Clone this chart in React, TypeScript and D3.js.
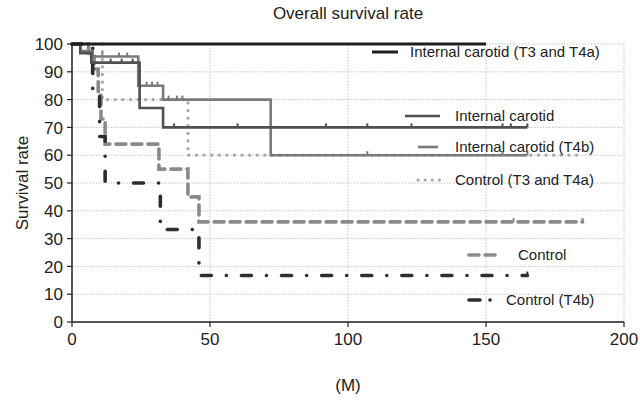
import React from "react";
import * as d3 from "d3";

const xTicks = [0, 50, 100, 150, 200];
const yTicks = [0, 10, 20, 30, 40, 50, 60, 70, 80, 90, 100];

const icT3T4aTimes = [0, 150];
const icT3T4aValues = [100, 100];
const icAllTimes = [0, 3, 7, 24.5, 33, 165];
const icAllValues = [100, 96.7, 93.3, 77, 70, 70];
const icT4bTimes = [0, 3, 7.5, 24, 33, 72, 165];
const icT4bValues = [100, 97.5, 95.5, 85, 80, 60, 60];
const ctrlT3T4aTimes = [0, 11, 42, 185];
const ctrlT3T4aValues = [100, 80, 60, 60];
const ctrlAllTimes = [0, 6, 8, 9.5, 10.5, 12, 31.5, 42, 46, 185];
const ctrlAllValues = [100, 95.5, 91, 82, 73, 64, 55, 45, 36, 36];
const ctrlT4bTimes = [0, 7.5, 10, 12, 32, 46, 165];
const ctrlT4bValues = [100, 83.3, 66.7, 50, 33.3, 16.7, 16.7];

const icAllCensor = [14, 18, 22, 37, 60, 92, 107, 123, 156, 159, 165];
const icT4bCensor = [11, 17, 20, 27, 29, 31, 35, 38, 40, 107, 156, 165];
const ctrlAllCensor = [160, 185];
const ctrlT4bCensor = [165];

const legendLabels = [
  "Internal carotid (T3 and T4a)",
  "Internal carotid",
  "Internal carotid (T4b)",
  "Control (T3 and T4a)",
  "Control",
  "Control (T4b)",
];

const FONT = "'Liberation Sans', Arial, sans-serif";

const x = d3.scaleLinear().domain([0, 200]).range([72, 624]);
const y = d3.scaleLinear().domain([0, 100]).range([322, 44]);

const stepLine = d3
  .line<[number, number]>()
  .x((d) => x(d[0]))
  .y((d) => y(d[1]))
  .curve(d3.curveStepAfter);

function valueAt(times: number[], values: number[], t: number) {
  let v = values[0];
  for (let i = 0; i < times.length; i++) if (times[i] <= t) v = values[i];
  return v;
}

type Style = {
  stroke: string;
  width: number;
  dash?: string;
  cap?: "round" | "butt" | "square";
};

const styles: Style[] = [
  { stroke: "#1e1e1e", width: 3 },
  { stroke: "#505050", width: 2.6 },
  { stroke: "#7a7a7a", width: 2.6 },
  { stroke: "#a8a8a8", width: 3.2, dash: "0.1 7.5", cap: "round" },
  { stroke: "#8a8a8a", width: 3.6, dash: "10 6", cap: "round" },
  { stroke: "#2e2e2e", width: 3.6, dash: "10 15 0.1 15", cap: "round" },
];

const series = [
  { times: icT3T4aTimes, values: icT3T4aValues, censor: [] as number[] },
  { times: icAllTimes, values: icAllValues, censor: icAllCensor },
  { times: icT4bTimes, values: icT4bValues, censor: icT4bCensor },
  { times: ctrlT3T4aTimes, values: ctrlT3T4aValues, censor: [] as number[] },
  { times: ctrlAllTimes, values: ctrlAllValues, censor: ctrlAllCensor },
  { times: ctrlT4bTimes, values: ctrlT4bValues, censor: ctrlT4bCensor },
];

const legendPos = [
  { x1: 372, x2: 398, tx: 410, y: 52, dash: undefined as string | undefined },
  { x1: 405, x2: 440, tx: 455, y: 116, dash: undefined as string | undefined },
  { x1: 418, x2: 438, tx: 455, y: 147, dash: undefined as string | undefined },
  { x1: 418, x2: 440, tx: 455, y: 180, dash: "0.1 7" },
  { x1: 469, x2: 496, tx: 518, y: 255, dash: "10 6" },
  { x1: 469, x2: 491, tx: 506, y: 300, dash: "11 10 0.1 30" },
];

export default function App() {
  const drawOrder = [3, 4, 5, 2, 1, 0];
  return (
    <div style={{ position: "fixed", left: 0, top: 0 }}>
      <svg width={640} height={400} style={{ display: "block", background: "#fff" }}>
        <rect width={640} height={400} fill="#fff" />
        {/* grid */}
        {yTicks.map((t) => (
          <line
            key={"gy" + t}
            x1={x(0)}
            x2={x(200)}
            y1={y(t)}
            y2={y(t)}
            stroke="#c2c2c2"
            strokeWidth={1}
            strokeDasharray="1.5 1.5"
          />
        ))}
        {xTicks.slice(1).map((t) => (
          <line
            key={"gx" + t}
            x1={x(t)}
            x2={x(t)}
            y1={y(0)}
            y2={y(100)}
            stroke="#c2c2c2"
            strokeWidth={1}
            strokeDasharray="1.5 1.5"
          />
        ))}
        {/* series */}
        {drawOrder.map((i) => {
          const s = series[i];
          const st = styles[i];
          const pts = s.times.map((t, k) => [t, s.values[k]] as [number, number]);
          return (
            <g key={"s" + i}>
              <path
                d={stepLine(pts) || ""}
                fill="none"
                stroke={st.stroke}
                strokeWidth={st.width}
                strokeDasharray={st.dash}
                strokeLinecap={st.cap || "butt"}
              />
              {s.censor.map((c, k) => {
                const v = valueAt(s.times, s.values, c);
                return (
                  <line
                    key={k}
                    x1={x(c)}
                    x2={x(c)}
                    y1={y(v)}
                    y2={y(v) - 4}
                    stroke={st.stroke}
                    strokeWidth={2}
                  />
                );
              })}
            </g>
          );
        })}
        {/* axes */}
        <line x1={x(0)} x2={x(0)} y1={y(0)} y2={y(100)} stroke="#222" strokeWidth={1.5} />
        <line x1={x(0)} x2={x(200)} y1={y(0)} y2={y(0)} stroke="#222" strokeWidth={1.5} />
        {yTicks.map((t) => (
          <g key={"yt" + t}>
            <line x1={x(0) - 5} x2={x(0)} y1={y(t)} y2={y(t)} stroke="#222" strokeWidth={1.2} />
            <text
              x={x(0) - 9}
              y={y(t)}
              dy="0.36em"
              textAnchor="end"
              fontFamily={FONT}
              fontSize={17}
              fill="#222"
            >
              {t}
            </text>
          </g>
        ))}
        {xTicks.map((t) => (
          <g key={"xt" + t}>
            <line x1={x(t)} x2={x(t)} y1={y(0)} y2={y(0) + 5} stroke="#222" strokeWidth={1.2} />
            <text
              x={x(t)}
              y={y(0) + 23}
              textAnchor="middle"
              fontFamily={FONT}
              fontSize={17}
              fill="#222"
            >
              {t}
            </text>
          </g>
        ))}
        {/* titles */}
        <text x={348} y={19} textAnchor="middle" fontFamily={FONT} fontSize={17} fill="#222">
          Overall survival rate
        </text>
        <text x={348} y={391} textAnchor="middle" fontFamily={FONT} fontSize={17} fill="#222">
          (M)
        </text>
        <text
          transform={`translate(28,${y(50)}) rotate(-90)`}
          textAnchor="middle"
          fontFamily={FONT}
          fontSize={17}
          fill="#222"
        >
          Survival rate
        </text>
        {/* legend */}
        {legendLabels.map((lab, i) => {
          const p = legendPos[i];
          const st = styles[i];
          return (
            <g key={"lg" + i}>
              <line
                x1={p.x1}
                x2={p.x2}
                y1={p.y}
                y2={p.y}
                stroke={st.stroke}
                strokeWidth={st.width}
                strokeDasharray={p.dash}
                strokeLinecap={st.cap || "butt"}
              />
              <text
                x={p.tx}
                y={p.y}
                dy="0.36em"
                fontFamily={FONT}
                fontSize={15}
                fill="#222"
              >
                {lab}
              </text>
            </g>
          );
        })}
      </svg>
    </div>
  );
}
